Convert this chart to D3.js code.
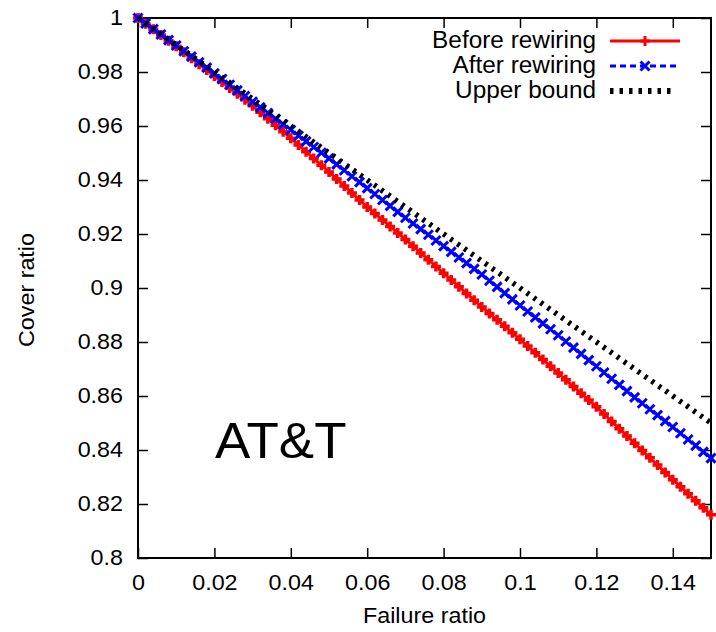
<!DOCTYPE html>
<html>
<head>
<meta charset="utf-8">
<script src="https://cdn.jsdelivr.net/npm/d3@7"></script>
<style>
  html, body { margin: 0; padding: 0; background: #fff; }
  svg { display: block; }
  text { font-family: "Liberation Sans", Arial, Helvetica, sans-serif; fill: #000; }
</style>
</head>
<body>
<svg id="chart" width="716" height="632"></svg>
<script>
// ---------- data ----------
const failureRatio = [
  0.000,0.002,0.004,0.006,0.008,0.010,0.012,0.014,0.016,0.018,
  0.020,0.022,0.024,0.026,0.028,0.030,0.032,0.034,0.036,0.038,
  0.040,0.042,0.044,0.046,0.048,0.050,0.052,0.054,0.056,0.058,
  0.060,0.062,0.064,0.066,0.068,0.070,0.072,0.074,0.076,0.078,
  0.080,0.082,0.084,0.086,0.088,0.090,0.092,0.094,0.096,0.098,
  0.100,0.102,0.104,0.106,0.108,0.110,0.112,0.114,0.116,0.118,
  0.120,0.122,0.124,0.126,0.128,0.130,0.132,0.134,0.136,0.138,
  0.140,0.142,0.144,0.146,0.148,0.150
];
const beforeRewiring = [
  1.0000,0.9979,0.9958,0.9937,0.9916,0.9895,0.9873,0.9851,0.9829,0.9807,
  0.9785,0.9763,0.9741,0.9719,0.9697,0.9675,0.9651,0.9627,0.9603,0.9579,
  0.9555,0.9530,0.9505,0.9480,0.9455,0.9430,0.9404,0.9378,0.9352,0.9326,
  0.9300,0.9276,0.9252,0.9228,0.9204,0.9180,0.9155,0.9130,0.9105,0.9080,
  0.9055,0.9030,0.9005,0.8980,0.8955,0.8930,0.8906,0.8882,0.8858,0.8834,
  0.8810,0.8785,0.8760,0.8735,0.8710,0.8685,0.8660,0.8635,0.8610,0.8585,
  0.8560,0.8533,0.8506,0.8479,0.8452,0.8425,0.8398,0.8371,0.8344,0.8317,
  0.8290,0.8264,0.8238,0.8212,0.8186,0.8160
];
const afterRewiring = [
  1.0000,0.9980,0.9959,0.9939,0.9918,0.9898,0.9877,0.9857,0.9836,0.9816,
  0.9795,0.9774,0.9753,0.9732,0.9711,0.9690,0.9669,0.9648,0.9627,0.9606,
  0.9585,0.9564,0.9543,0.9522,0.9501,0.9480,0.9458,0.9436,0.9414,0.9392,
  0.9370,0.9348,0.9326,0.9304,0.9282,0.9260,0.9239,0.9218,0.9197,0.9176,
  0.9155,0.9134,0.9113,0.9092,0.9071,0.9050,0.9027,0.9004,0.8981,0.8958,
  0.8935,0.8913,0.8891,0.8869,0.8847,0.8825,0.8802,0.8779,0.8756,0.8733,
  0.8710,0.8687,0.8664,0.8641,0.8618,0.8595,0.8573,0.8551,0.8529,0.8507,
  0.8485,0.8462,0.8439,0.8416,0.8393,0.8370
];
const upperX = [0.00,0.01,0.02,0.03,0.04,0.05,0.06,0.07,0.08,0.09,0.10,0.11,0.12,0.13,0.14,0.15];
const upperBound = [1.00,0.99,0.98,0.97,0.96,0.95,0.94,0.93,0.92,0.91,0.90,0.89,0.88,0.87,0.86,0.85];

const xTickValues = [0,0.02,0.04,0.06,0.08,0.10,0.12,0.14];
const xTickLabels = ["0","0.02","0.04","0.06","0.08","0.1","0.12","0.14"];
const yTickValues = [0.80,0.82,0.84,0.86,0.88,0.90,0.92,0.94,0.96,0.98,1.00];
const yTickLabels = ["0.8","0.82","0.84","0.86","0.88","0.9","0.92","0.94","0.96","0.98","1"];
const seriesNames = ["Before rewiring","After rewiring","Upper bound"];

// ---------- layout ----------
const svg = d3.select("#chart");
const L = 138, R = 711, T = 18, B = 558;
const SX = 1.06; // horizontal font stretch
const x = d3.scaleLinear().domain([0, 0.15]).range([L, R]);
const y = d3.scaleLinear().domain([0.8, 1.0]).range([B, T]);

const tickLen = 10;
// bottom axis
const gx = svg.append("g").attr("transform", `translate(0,${B})`)
  .call(d3.axisBottom(x).tickValues(xTickValues).tickSize(-tickLen).tickPadding(0)
    .tickFormat((d, i) => xTickLabels[i]));
gx.select(".domain").remove();
gx.selectAll(".tick line").attr("stroke", "#000").attr("stroke-width", 1.5);
gx.selectAll(".tick text").attr("y", null).attr("dy", null)
  .attr("transform", `translate(0,32) scale(${SX},1)`)
  .style("font-size", "22px");

// top mirror ticks
const gxt = svg.append("g").attr("transform", `translate(0,${T})`)
  .call(d3.axisTop(x).tickValues(xTickValues).tickSize(-tickLen).tickFormat(""));
gxt.select(".domain").remove();
gxt.selectAll(".tick line").attr("stroke", "#000").attr("stroke-width", 1.5);

// left axis
const gy = svg.append("g").attr("transform", `translate(${L},0)`)
  .call(d3.axisLeft(y).tickValues(yTickValues).tickSize(-tickLen).tickPadding(0)
    .tickFormat((d, i) => yTickLabels[i]));
gy.select(".domain").remove();
gy.selectAll(".tick line").attr("stroke", "#000").attr("stroke-width", 1.5);
gy.selectAll(".tick text").attr("x", null)
  .attr("transform", `translate(-15,-1) scale(${SX},1)`)
  .style("font-size", "22px");

// right mirror ticks
const gyr = svg.append("g").attr("transform", `translate(${R},0)`)
  .call(d3.axisRight(y).tickValues(yTickValues).tickSize(-tickLen).tickFormat(""));
gyr.select(".domain").remove();
gyr.selectAll(".tick line").attr("stroke", "#000").attr("stroke-width", 1.5);

// frame
svg.append("rect").attr("x", L).attr("y", T).attr("width", R - L).attr("height", B - T)
  .attr("fill", "none").attr("stroke", "#000").attr("stroke-width", 2);

// axis labels
svg.append("text").attr("transform", `translate(${(L + R) / 2},623) scale(${SX},1)`)
  .attr("text-anchor", "middle").style("font-size", "22px").text("Failure ratio");
svg.append("text").attr("transform", `translate(34,${(T + B) / 2 + 2}) rotate(-90) scale(${SX},1)`)
  .attr("text-anchor", "middle").style("font-size", "22px").text("Cover ratio");

// AT&T label
svg.append("text").attr("transform", `translate(215,458) scale(${SX},1)`)
  .style("font-size", "50px").text("AT&T");

// ---------- series ----------
const pts = (xs, ys) => xs.map((v, i) => [v, ys[i]]);
const line = d3.line().x(d => x(d[0])).y(d => y(d[1]));
const plusPath = s => `M${-s},0H${s}M0,${-s}V${s}`;
const crossPath = s => `M${-s},${-s}L${s},${s}M${-s},${s}L${s},${-s}`;

const redPts = pts(failureRatio, beforeRewiring);
const bluePts = pts(failureRatio, afterRewiring);
const upPts = pts(upperX, upperBound);

svg.append("path").datum(redPts).attr("d", line)
  .attr("fill", "none").attr("stroke", "#ff0000").attr("stroke-width", 3);
svg.append("g").selectAll("path").data(redPts).join("path")
  .attr("transform", d => `translate(${x(d[0])},${y(d[1])})`)
  .attr("d", plusPath(5)).attr("stroke", "#ff0000").attr("stroke-width", 3.5).attr("fill", "none");

svg.append("path").datum(bluePts).attr("d", line)
  .attr("fill", "none").attr("stroke", "#0000ff").attr("stroke-width", 3)
  .attr("stroke-dasharray", "6,4");
svg.append("g").selectAll("path").data(bluePts).join("path")
  .attr("transform", d => `translate(${x(d[0])},${y(d[1])})`)
  .attr("d", crossPath(4.5)).attr("stroke", "#0000ff").attr("stroke-width", 3).attr("fill", "none");

svg.append("path").datum(upPts).attr("d", line)
  .attr("fill", "none").attr("stroke", "#000").attr("stroke-width", 5.5)
  .attr("stroke-dasharray", "3,5.5");

// ---------- legend ----------
const legX1 = 610, legX2 = 680, legMid = 645, legTextX = 596;
const legY = [41, 66, 91];
const lg = svg.append("g");
seriesNames.forEach((name, i) => {
  lg.append("text").attr("transform", `translate(${legTextX},${legY[i] + 7}) scale(${SX},1)`)
    .attr("text-anchor", "end").style("font-size", "23px").text(name);
});
lg.append("line").attr("x1", legX1).attr("x2", legX2).attr("y1", legY[0]).attr("y2", legY[0])
  .attr("stroke", "#ff0000").attr("stroke-width", 3);
lg.append("path").attr("transform", `translate(${legMid},${legY[0]})`).attr("d", plusPath(5))
  .attr("stroke", "#ff0000").attr("stroke-width", 3);
lg.append("line").attr("x1", legX1).attr("x2", legX2).attr("y1", legY[1]).attr("y2", legY[1])
  .attr("stroke", "#0000ff").attr("stroke-width", 3).attr("stroke-dasharray", "6,4");
lg.append("path").attr("transform", `translate(${legMid},${legY[1]})`).attr("d", crossPath(4.5))
  .attr("stroke", "#0000ff").attr("stroke-width", 3);
lg.append("line").attr("x1", legX1).attr("x2", legX2 - 4).attr("y1", legY[2]).attr("y2", legY[2])
  .attr("stroke", "#000").attr("stroke-width", 6).attr("stroke-dasharray", "3.5,6");
</script>
</body>
</html>
